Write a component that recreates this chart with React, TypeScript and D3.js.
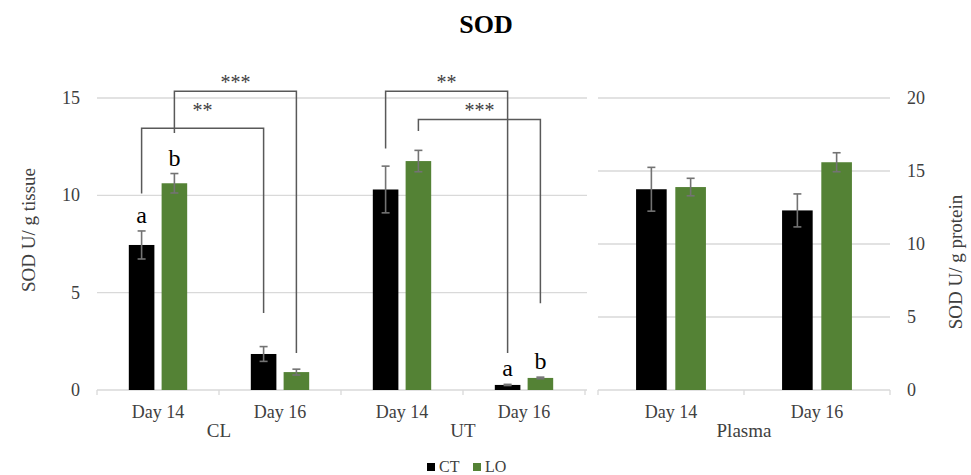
import { useEffect, useRef } from "react";
import * as d3 from "d3";

const tissueCategories = ["Day 14", "Day 16", "Day 14", "Day 16"];
const tissueGroups = ["CL", "UT"];
const plasmaCategories = ["Day 14", "Day 16"];
const plasmaGroups = ["Plasma"];
const series = ["CT", "LO"];
const seriesColors = ["#000000", "#548235"];

// SOD U / g tissue
const tissueCT = [7.45, 1.85, 10.3, 0.26];
const tissueCTErr = [0.72, 0.38, 1.2, 0.03];
const tissueLO = [10.62, 0.92, 11.76, 0.62];
const tissueLOErr = [0.5, 0.15, 0.55, 0.04];

// SOD U / g protein
const plasmaCT = [13.75, 12.3];
const plasmaCTErr = [1.5, 1.13];
const plasmaLO = [13.9, 15.6];
const plasmaLOErr = [0.6, 0.65];

const tissueTicks = [0, 5, 10, 15];
const plasmaTicks = [0, 5, 10, 15, 20];

const letters = [
  { cat: 0, s: 0, text: "a" },
  { cat: 0, s: 1, text: "b" },
  { cat: 3, s: 0, text: "a" },
  { cat: 3, s: 1, text: "b" },
];

const brackets = [
  { label: "**", labelY: 14.5, c1: 0, s1: 0, y1: 10.1, yTop: 13.45, c2: 1, s2: 0, y2: 3.95 },
  { label: "***", labelY: 15.97, c1: 0, s1: 1, y1: 13.2, yTop: 15.35, c2: 1, s2: 1, y2: 1.9 },
  { label: "**", labelY: 15.97, c1: 2, s1: 0, y1: 12.4, yTop: 15.35, c2: 3, s2: 0, y2: 1.9 },
  { label: "***", labelY: 14.5, c1: 2, s1: 1, y1: 13.3, yTop: 13.9, c2: 3, s2: 1, y2: 4.45 },
];

const FONT = "'Liberation Serif', 'Times New Roman', serif";
const width = 971;
const height = 475;

const App = () => {
  const svgRef = useRef<SVGSVGElement>(null);

  useEffect(() => {
    const svg = d3.select(svgRef.current);
    svg.selectAll("*").remove();

    const top = 98;
    const bottom = 390;
    const textColor = "#404040";
    const gridColor = "#d9d9d9";

    const yL = d3.scaleLinear().domain([0, 15]).range([bottom, top]);
    const yR = d3.scaleLinear().domain([0, 20]).range([bottom, top]);

    const xL = d3
      .scaleBand<number>()
      .domain(d3.range(tissueCategories.length))
      .range([97, 585]);
    const xR = d3
      .scaleBand<number>()
      .domain(d3.range(plasmaCategories.length))
      .range([598, 890]);

    const inner = (bw: number) =>
      d3.scaleBand<number>().domain([0, 1]).range([0, bw]).paddingInner(0.22).paddingOuter(0.97);
    const xLi = inner(xL.bandwidth());
    const xRi = inner(xR.bandwidth());

    // gridlines
    svg
      .append("g")
      .selectAll("line")
      .data(tissueTicks)
      .join("line")
      .attr("x1", 97)
      .attr("x2", 587)
      .attr("y1", (d) => yL(d))
      .attr("y2", (d) => yL(d))
      .attr("stroke", gridColor)
      .attr("stroke-width", 1.3);
    svg
      .append("g")
      .selectAll("line")
      .data(plasmaTicks)
      .join("line")
      .attr("x1", 598)
      .attr("x2", 890)
      .attr("y1", (d) => yR(d))
      .attr("y2", (d) => yR(d))
      .attr("stroke", gridColor)
      .attr("stroke-width", 1.3);

    // category ticks
    const tickXs = [
      ...d3.range(tissueCategories.length + 1).map((i) => 97 + i * xL.step()),
      ...d3.range(plasmaCategories.length + 1).map((i) => 598 + i * xR.step()),
    ];
    svg
      .append("g")
      .selectAll("line")
      .data(tickXs)
      .join("line")
      .attr("x1", (d) => d)
      .attr("x2", (d) => d)
      .attr("y1", bottom)
      .attr("y2", bottom + 5)
      .attr("stroke", gridColor)
      .attr("stroke-width", 1.3);

    // y tick labels
    svg
      .append("g")
      .selectAll("text")
      .data(tissueTicks)
      .join("text")
      .attr("x", 80)
      .attr("y", (d) => yL(d) + 6)
      .attr("text-anchor", "end")
      .attr("font-family", FONT)
      .attr("font-size", 18)
      .attr("fill", textColor)
      .text((d) => d);
    svg
      .append("g")
      .selectAll("text")
      .data(plasmaTicks)
      .join("text")
      .attr("x", 907)
      .attr("y", (d) => yR(d) + 6)
      .attr("text-anchor", "start")
      .attr("font-family", FONT)
      .attr("font-size", 18)
      .attr("fill", textColor)
      .text((d) => d);

    const drawBars = (
      x: d3.ScaleBand<number>,
      xi: d3.ScaleBand<number>,
      y: d3.ScaleLinear<number, number>,
      vals: number[][],
      errs: number[][]
    ) => {
      vals.forEach((arr, s) => {
        const g = svg.append("g");
        g.selectAll("rect")
          .data(arr)
          .join("rect")
          .attr("x", (_, i) => (x(i) as number) + (xi(s) as number))
          .attr("y", (d) => y(d))
          .attr("width", xi.bandwidth())
          .attr("height", (d) => y(0) - y(d))
          .attr("fill", seriesColors[s]);
        const cx = (i: number) => (x(i) as number) + (xi(s) as number) + xi.bandwidth() / 2;
        const eg = g.append("g").attr("stroke", "#737373").attr("stroke-width", 1.6);
        arr.forEach((d, i) => {
          const e = errs[s][i];
          eg.append("line").attr("x1", cx(i)).attr("x2", cx(i)).attr("y1", y(d - e)).attr("y2", y(d + e));
          eg.append("line").attr("x1", cx(i) - 4).attr("x2", cx(i) + 4).attr("y1", y(d - e)).attr("y2", y(d - e));
          eg.append("line").attr("x1", cx(i) - 4).attr("x2", cx(i) + 4).attr("y1", y(d + e)).attr("y2", y(d + e));
        });
      });
    };

    drawBars(xL, xLi, yL, [tissueCT, tissueLO], [tissueCTErr, tissueLOErr]);
    drawBars(xR, xRi, yR, [plasmaCT, plasmaLO], [plasmaCTErr, plasmaLOErr]);

    // category labels
    const catLabel = (x: d3.ScaleBand<number>, cats: string[]) =>
      svg
        .append("g")
        .selectAll("text")
        .data(cats)
        .join("text")
        .attr("x", (_, i) => (x(i) as number) + x.bandwidth() / 2)
        .attr("y", 418)
        .attr("text-anchor", "middle")
        .attr("font-family", FONT)
        .attr("font-size", 18)
        .attr("fill", textColor)
        .text((d) => d);
    catLabel(xL, tissueCategories);
    catLabel(xR, plasmaCategories);

    const groupLabel = (x: d3.ScaleBand<number>, groups: string[], per: number) =>
      svg
        .append("g")
        .selectAll("text")
        .data(groups)
        .join("text")
        .attr("x", (_, i) => (x(i * per) as number) + (x.step() * per) / 2)
        .attr("y", 437)
        .attr("text-anchor", "middle")
        .attr("font-family", FONT)
        .attr("font-size", 19)
        .attr("fill", textColor)
        .text((d) => d);
    groupLabel(xL, tissueGroups, 2);
    groupLabel(xR, plasmaGroups, 2);

    // significance letters
    const tissueVals = [tissueCT, tissueLO];
    const tissueErrs = [tissueCTErr, tissueLOErr];
    svg
      .append("g")
      .selectAll("text")
      .data(letters)
      .join("text")
      .attr("x", (d) => (xL(d.cat) as number) + (xLi(d.s) as number) + xLi.bandwidth() / 2)
      .attr("y", (d) => yL(tissueVals[d.s][d.cat] + tissueErrs[d.s][d.cat]) - 8)
      .attr("text-anchor", "middle")
      .attr("font-family", FONT)
      .attr("font-size", 24)
      .attr("fill", "#000")
      .text((d) => d.text);

    // brackets
    const bx = (c: number, s: number) => (xL(c) as number) + (xLi(s) as number) + xLi.bandwidth() / 2;
    const bg = svg.append("g");
    brackets.forEach((b) => {
      const x1 = bx(b.c1, b.s1);
      const x2 = bx(b.c2, b.s2);
      bg.append("path")
        .attr("d", `M${x1},${yL(b.y1)}V${yL(b.yTop)}H${x2}V${yL(b.y2)}`)
        .attr("fill", "none")
        .attr("stroke", "#595959")
        .attr("stroke-width", 1.5);
      bg.append("text")
        .attr("x", (x1 + x2) / 2)
        .attr("y", yL(b.labelY) + 9.4)
        .attr("text-anchor", "middle")
        .attr("font-family", FONT)
        .attr("font-size", 20)
        .attr("fill", "#404040")
        .text(b.label);
    });

    // title
    svg
      .append("text")
      .attr("x", 486)
      .attr("y", 33)
      .attr("text-anchor", "middle")
      .attr("font-family", FONT)
      .attr("font-weight", "bold")
      .attr("font-size", 26)
      .attr("fill", "#000")
      .text("SOD");

    // axis titles
    svg
      .append("text")
      .attr("transform", "translate(28,230) rotate(-90)")
      .attr("text-anchor", "middle")
      .attr("dominant-baseline", "central")
      .attr("font-family", FONT)
      .attr("font-size", 19)
      .attr("fill", textColor)
      .text("SOD U/ g tissue");
    svg
      .append("text")
      .attr("transform", "translate(955,262) rotate(-90)")
      .attr("text-anchor", "middle")
      .attr("dominant-baseline", "central")
      .attr("font-family", FONT)
      .attr("font-size", 19)
      .attr("fill", textColor)
      .text("SOD U/ g protein");

    // legend
    const lg = svg.append("g");
    const legendX = [427, 473];
    series.forEach((s, i) => {
      lg.append("rect")
        .attr("x", legendX[i])
        .attr("y", 463)
        .attr("width", 8)
        .attr("height", 8)
        .attr("fill", seriesColors[i]);
      lg.append("text")
        .attr("x", legendX[i] + 12)
        .attr("y", 472)
        .attr("font-family", FONT)
        .attr("font-size", 16)
        .attr("fill", textColor)
        .text(s);
    });
  }, []);

  return (
    <svg
      ref={svgRef}
      width={width}
      height={height}
      style={{ position: "absolute", left: 0, top: 0, background: "#fff" }}
    />
  );
};

export default App;
